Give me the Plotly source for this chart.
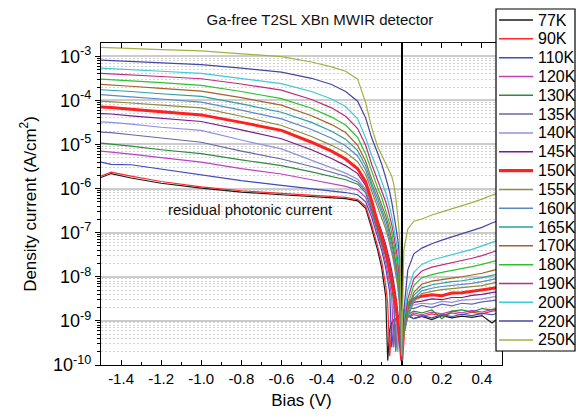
import numpy as np
import plotly.graph_objects as go

# ---------------- data (current as log10 of A/cm^2) ----------------
bias = [-1.50, -1.45, -1.35, -1.20, -1.00, -0.80, -0.60, -0.45, -0.35, -0.28, -0.22, -0.18,
        -0.15, -0.12, -0.10, -0.08, -0.07, -0.06, -0.05, -0.04, -0.03, -0.02, -0.01, 0.00,
        0.01, 0.03, 0.06, 0.10, 0.15, 0.20, 0.25, 0.30, 0.35, 0.40, 0.45, 0.50]

log_j_77 = [-5.75, -5.66, -5.76, -5.88, -5.99, -6.08, -6.14, -6.18, -6.21, -6.23, -6.28, -6.45,
            -6.90, -7.40, -7.80, -8.45, -9.90, -9.20, -9.05, -8.98, -8.95, -8.92, -8.90, -8.90,
            -8.93, -8.88, -8.95, -8.90, -8.97, -8.88, -8.93, -8.89, -8.92, -8.88, -9.05, -8.88]
log_j_90 = [-5.72, -5.63, -5.72, -5.84, -5.96, -6.05, -6.11, -6.15, -6.18, -6.20, -6.25, -6.40,
            -6.82, -7.30, -7.65, -8.20, -8.60, -9.80, -9.10, -9.00, -8.95, -8.90, -8.88, -8.85,
            -8.88, -8.92, -8.86, -8.90, -8.84, -8.88, -8.82, -8.86, -8.80, -8.84, -8.78, -8.75]
log_j_110 = [-5.40, -5.45, -5.46, -5.56, -5.70, -5.82, -5.93, -6.00, -6.05, -6.09, -6.14, -6.30,
             -6.65, -7.10, -7.40, -7.80, -8.05, -8.35, -9.60, -9.10, -8.95, -8.92, -8.90, -8.90,
             -8.92, -8.87, -8.95, -8.88, -8.93, -8.86, -8.90, -8.85, -8.88, -8.83, -8.86, -8.80]
log_j_120 = [-5.15, -5.17, -5.22, -5.30, -5.40, -5.55, -5.67, -5.80, -5.88, -5.95, -6.03, -6.20,
             -6.55, -7.00, -7.30, -7.68, -7.90, -8.15, -8.45, -9.60, -9.10, -8.95, -8.90, -8.88,
             -8.85, -8.90, -8.82, -8.86, -8.80, -8.84, -8.78, -8.82, -8.76, -8.80, -8.74, -8.72]
log_j_130 = [-4.97, -4.99, -5.04, -5.12, -5.21, -5.35, -5.48, -5.62, -5.72, -5.80, -5.90, -6.10,
             -6.48, -6.92, -7.20, -7.55, -7.75, -7.98, -8.25, -8.60, -9.70, -9.00, -8.90, -8.85,
             -8.82, -8.85, -8.78, -8.82, -8.75, -8.95, -8.78, -8.75, -8.80, -8.72, -8.75, -8.68]
log_j_135 = [-4.72, -4.73, -4.78, -4.86, -4.95, -5.15, -5.33, -5.50, -5.62, -5.72, -5.85, -6.05,
             -6.42, -6.85, -7.12, -7.45, -7.62, -7.82, -8.05, -8.35, -9.60, -9.00, -8.85, -8.80,
             -8.75, -8.70, -8.72, -8.65, -8.70, -8.62, -8.66, -8.60, -8.62, -8.57, -8.55, -8.52]
log_j_140 = [-4.49, -4.50, -4.54, -4.61, -4.68, -4.90, -5.10, -5.35, -5.52, -5.65, -5.79, -6.01,
             -6.36, -6.79, -7.06, -7.36, -7.53, -7.73, -7.96, -8.23, -8.56, -9.70, -8.90, -8.80,
             -8.75, -8.68, -8.64, -8.60, -8.62, -8.56, -8.58, -8.53, -8.52, -8.50, -8.46, -8.43]
log_j_145 = [-4.30, -4.31, -4.35, -4.41, -4.48, -4.67, -4.87, -5.12, -5.32, -5.48, -5.66, -5.93,
             -6.30, -6.72, -6.97, -7.27, -7.44, -7.64, -7.86, -8.12, -8.42, -8.80, -9.60, -9.00,
             -8.80, -8.65, -8.58, -8.55, -8.50, -8.52, -8.47, -8.47, -8.42, -8.40, -8.36, -8.32]
log_j_150 = [-4.15, -4.16, -4.20, -4.26, -4.33, -4.50, -4.68, -4.95, -5.15, -5.33, -5.55, -5.85,
             -6.28, -6.78, -7.08, -7.42, -7.62, -7.84, -8.06, -8.32, -8.62, -8.96, -9.40, -9.90,
             -9.20, -8.62, -8.50, -8.44, -8.41, -8.43, -8.37, -8.36, -8.33, -8.30, -8.27, -8.23]
log_j_155 = [-4.02, -4.03, -4.06, -4.11, -4.17, -4.36, -4.57, -4.82, -5.02, -5.18, -5.39, -5.68,
             -6.05, -6.42, -6.65, -6.92, -7.07, -7.25, -7.45, -7.68, -7.92, -8.22, -8.70, -9.70,
             -9.30, -8.92, -8.56, -8.38, -8.33, -8.29, -8.27, -8.25, -8.23, -8.20, -8.15, -8.10]
log_j_160 = [-3.87, -3.89, -3.92, -3.97, -4.04, -4.22, -4.42, -4.66, -4.86, -5.03, -5.26, -5.58,
             -5.97, -6.32, -6.55, -6.82, -6.97, -7.15, -7.35, -7.58, -7.82, -8.12, -8.60, -9.70,
             -9.30, -8.88, -8.50, -8.32, -8.26, -8.22, -8.20, -8.18, -8.15, -8.11, -8.07, -8.02]
log_j_165 = [-3.76, -3.77, -3.80, -3.85, -3.91, -4.08, -4.27, -4.50, -4.70, -4.88, -5.14, -5.48,
             -5.88, -6.22, -6.45, -6.72, -6.87, -7.05, -7.25, -7.48, -7.72, -8.02, -8.50, -9.80,
             -9.30, -8.82, -8.42, -8.25, -8.18, -8.14, -8.11, -8.09, -8.06, -8.02, -7.97, -7.92]
log_j_170 = [-3.64, -3.65, -3.68, -3.73, -3.79, -3.94, -4.11, -4.35, -4.55, -4.73, -5.02, -5.38,
             -5.78, -6.12, -6.35, -6.62, -6.77, -6.95, -7.15, -7.38, -7.62, -7.92, -8.40, -9.90,
             -9.30, -8.75, -8.35, -8.17, -8.10, -8.06, -8.03, -8.00, -7.96, -7.92, -7.86, -7.80]
log_j_180 = [-3.52, -3.53, -3.56, -3.60, -3.66, -3.80, -3.96, -4.18, -4.38, -4.56, -4.84, -5.22,
             -5.62, -5.98, -6.20, -6.48, -6.62, -6.80, -7.00, -7.22, -7.48, -7.78, -8.30, -9.90,
             -9.20, -8.65, -8.20, -8.02, -7.95, -7.90, -7.86, -7.82, -7.77, -7.72, -7.66, -7.60]
log_j_190 = [-3.39, -3.40, -3.43, -3.46, -3.51, -3.63, -3.77, -3.98, -4.17, -4.36, -4.64, -5.02,
             -5.45, -5.80, -6.02, -6.30, -6.45, -6.62, -6.82, -7.05, -7.30, -7.60, -8.10, -9.90,
             -9.10, -8.50, -8.05, -7.87, -7.78, -7.73, -7.68, -7.64, -7.58, -7.52, -7.45, -7.37]
log_j_200 = [-3.27, -3.28, -3.30, -3.34, -3.39, -3.50, -3.62, -3.80, -3.97, -4.14, -4.42, -4.85,
             -5.25, -5.58, -5.82, -6.10, -6.25, -6.43, -6.63, -6.87, -7.12, -7.42, -7.90, -9.90,
             -9.00, -8.30, -7.90, -7.72, -7.62, -7.56, -7.50, -7.45, -7.38, -7.30, -7.22, -7.14]
log_j_220 = [-3.09, -3.10, -3.12, -3.15, -3.19, -3.27, -3.36, -3.50, -3.64, -3.80, -4.02, -4.40,
             -4.85, -5.20, -5.45, -5.75, -5.90, -6.08, -6.30, -6.55, -6.85, -7.15, -7.60, -9.90,
             -8.80, -7.85, -7.48, -7.35, -7.25, -7.17, -7.10, -7.03, -6.96, -6.88, -6.78, -6.70]
log_j_250 = [-2.80, -2.81, -2.82, -2.85, -2.88, -2.94, -3.01, -3.13, -3.24, -3.34, -3.52, -4.05,
             -4.62, -5.05, -5.25, -5.45, -5.53, -5.62, -5.72, -5.90, -6.20, -6.62, -7.15, -9.80,
             -7.40, -6.92, -6.74, -6.69, -6.60, -6.53, -6.46, -6.40, -6.32, -6.24, -6.15, -6.06]

temps = ["77K", "90K", "110K", "120K", "130K", "135K", "140K", "145K", "150K",
         "155K", "160K", "165K", "170K", "180K", "190K", "200K", "220K", "250K"]
curves = [log_j_77, log_j_90, log_j_110, log_j_120, log_j_130, log_j_135, log_j_140, log_j_145,
          log_j_150, log_j_155, log_j_160, log_j_165, log_j_170, log_j_180, log_j_190, log_j_200,
          log_j_220, log_j_250]
colors = ["#1a1a1a", "#ff2a2a", "#3a4cc0", "#c23fc2", "#2e8a3e", "#6868a8", "#9090e0", "#7a1a8a",
          "#ff2020", "#8c8c3c", "#5a88c8", "#2aa0a0", "#a4622a", "#2fc02f", "#c02a80", "#3ec8d8",
          "#4646a6", "#a2b242"]
widths = [1.2, 1.2, 1.2, 1.2, 1.2, 1.2, 1.2, 1.2, 3.0,
          1.2, 1.2, 1.2, 1.2, 1.2, 1.2, 1.2, 1.2, 1.2]

ytick_vals = [1e-10, 1e-9, 1e-8, 1e-7, 1e-6, 1e-5, 1e-4, 1e-3]
ytick_text = ["10<sup>-10</sup>", "10<sup>-9</sup>", "10<sup>-8</sup>", "10<sup>-7</sup>",
              "10<sup>-6</sup>", "10<sup>-5</sup>", "10<sup>-4</sup>", "10<sup>-3</sup>"]
xtick_vals = [-1.4, -1.2, -1.0, -0.8, -0.6, -0.4, -0.2, 0.0, 0.2, 0.4]
xtick_text = ["-1.4", "-1.2", "-1.0", "-0.8", "-0.6", "-0.4", "-0.2", "0.0", "0.2", "0.4"]

FONT = "Liberation Sans, Arial, sans-serif"
W, H = 576, 420
ML, MR, MT, MB = 101, 74, 43, 55
PW, PH = W - ML - MR, H - MT - MB

fig = go.Figure()
for name, lj, col, wd in zip(temps, curves, colors, widths):
    fig.add_trace(go.Scatter(x=bias, y=10 ** np.array(lj), mode="lines", name=name,
                             line=dict(color=col, width=wd), showlegend=False))

y_minor = [k * 10.0 ** e for e in range(-10, -2) for k in range(2, 10)]
x_minor = [round(-1.5 + 0.2 * i, 2) for i in range(11)]

fig.update_layout(
    width=W, height=H, margin=dict(l=ML, r=MR, t=MT, b=MB),
    paper_bgcolor="white", plot_bgcolor="white",
    font=dict(family=FONT, color="black"),
    title=dict(text="Ga-free T2SL XBn MWIR detector", x=320 / W, xanchor="center",
               y=1 - 20 / H, yanchor="middle", font=dict(size=15, family=FONT, color="#111")),
    showlegend=False,
    xaxis=dict(range=[-1.5, 0.5], tickvals=xtick_vals, ticktext=xtick_text,
               ticks="inside", ticklen=5, tickwidth=1.2, tickcolor="black",
               minor=dict(tickvals=x_minor, ticks="inside", ticklen=3, tickcolor="black"),
               showline=True, linecolor="black", linewidth=1.2, mirror="allticks",
               showgrid=False, zeroline=True, zerolinecolor="black", zerolinewidth=1.6,
               tickfont=dict(size=15, family=FONT),
               title=dict(text="Bias (V)", font=dict(size=17, family=FONT), standoff=8)),
    yaxis=dict(type="log", range=[-10, -2.7], tickvals=ytick_vals, ticktext=ytick_text,
               ticks="outside", ticklen=5, tickwidth=1.2, tickcolor="black",
               minor=dict(tickvals=y_minor, ticks="outside", ticklen=3, tickcolor="black",
                          showgrid=True, gridcolor="#d2d2d2", griddash="2px,2px", gridwidth=1),
               showline=True, linecolor="black", linewidth=1.2, mirror=True,
               showgrid=True, gridcolor="#cccccc", gridwidth=1.6, zeroline=False,
               tickfont=dict(size=18, family=FONT),
               title=dict(text="Density current (A/cm<sup>2</sup>)",
                          font=dict(size=17, family=FONT), standoff=12)),
)

fig.add_annotation(x=-0.755, y=-6.48, xref="x", yref="y", text="residual photonic current",
                   showarrow=False, font=dict(size=15, family=FONT, color="#111"))

# legend box drawn to match the reference's compact spacing
def fx(p):
    return (p - ML) / PW

def fy(p):
    return (H - MB - p) / PH

fig.add_shape(type="rect", xref="paper", yref="paper", x0=fx(496), x1=fx(575), y0=fy(351), y1=fy(9),
              fillcolor="white", line=dict(color="black", width=1.2), layer="above")
for i, (name, col, wd) in enumerate(zip(temps, colors, widths)):
    yc = 20 + i * 18.82
    fig.add_shape(type="line", xref="paper", yref="paper", x0=fx(499), x1=fx(533), y0=fy(yc), y1=fy(yc),
                  line=dict(color=col, width=wd + 0.3), layer="above")
    fig.add_annotation(xref="paper", yref="paper", x=fx(536), y=fy(yc), text=name, showarrow=False,
                       xanchor="left", yanchor="middle", font=dict(size=16, family=FONT, color="black"))

fig.write_html("out.html", config={"displayModeBar": False},
               post_script="document.body.style.margin='0px';")
